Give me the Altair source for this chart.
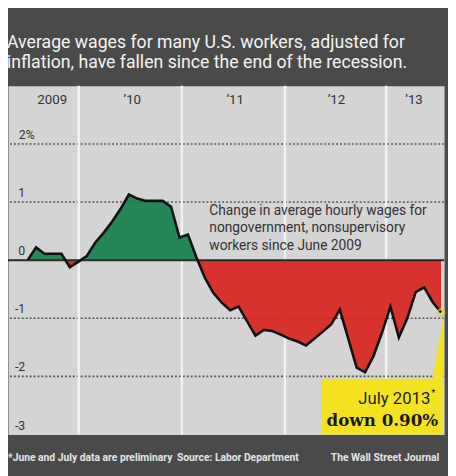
import altair as alt
import pandas as pd

# ---- data ----
month_index = list(range(50))  # June 2009 .. July 2013
values = [0.0, 0.22, 0.11, 0.11, 0.11, -0.12, -0.03, 0.07, 0.3, 0.47,
          0.66, 0.88, 1.13, 1.06, 1.02, 1.02, 1.02, 0.92, 0.39, 0.44,
          0.05, -0.3, -0.56, -0.73, -0.86, -0.8, -1.05, -1.3, -1.2, -1.22,
          -1.28, -1.35, -1.4, -1.47, -1.35, -1.23, -1.1, -0.85, -1.35, -1.85,
          -1.93, -1.65, -1.25, -0.8, -1.33, -1.0, -0.55, -0.47, -0.72, -0.9]
year_labels = ["2009", "\u201910", "\u201911", "\u201912", "\u201913"]
year_label_pos = [2.91, 12.4, 24.6, 36.6, 45.8]
year_edges = [6.05, 18.28, 30.5, 42.49]
dotted_levels = [2, 1, -1, -2]
ytick_vals = [1, 0, -1, -2, -3]
ytick_text = ["1", "0", "-1", "-2", "-3"]

df = pd.DataFrame({"i": month_index, "v": values})

W, H = 444, 355
xs = alt.Scale(domain=[-2.33, 49.36], nice=False, zero=False)
ys = alt.Scale(domain=[-3, 3], nice=False)

GREEN = "#17804e"
RED = "#d8261f"
YELLOW = "#f4e221"
TXT = "#333333"
SANS = "Roboto"

vmax = max(max(values), 0)
vmin = min(min(values), 0)
f = vmax / (vmax - vmin)

grid = alt.Chart(pd.DataFrame({"g": dotted_levels})).mark_rule(
    color="#555555", strokeDash=[2, 2], strokeWidth=1.6
).encode(y=alt.Y("g:Q", scale=ys, axis=None))

vgrid = alt.Chart(pd.DataFrame({"e": year_edges})).mark_rule(
    color="#f2f2f2", strokeWidth=2.5
).encode(x=alt.X("e:Q", scale=xs, axis=None))

area = alt.Chart(df).mark_area(
    opacity=0.93,
    color={"gradient": "linear", "x1": 0, "y1": 0, "x2": 0, "y2": 1,
           "stops": [{"offset": 0, "color": GREEN}, {"offset": f, "color": GREEN},
                     {"offset": f, "color": RED}, {"offset": 1, "color": RED}]}
).encode(x=alt.X("i:Q", scale=xs, axis=None), y=alt.Y("v:Q", scale=ys, axis=None), y2=alt.datum(0))

zero = alt.Chart(pd.DataFrame({"z": [0]})).mark_rule(color="#2a2a2a", strokeWidth=2).encode(
    y=alt.Y("z:Q", scale=ys, axis=None))

line = alt.Chart(df).mark_line(color="#111111", strokeWidth=2.6).encode(
    x=alt.X("i:Q", scale=xs), y=alt.Y("v:Q", scale=ys))

# callout box and pointer
last_i, last_v = month_index[-1], values[-1]
box = alt.Chart(pd.DataFrame({"x": [34.8], "x2": [49.2], "y": [-2.04], "y2": [-3]})).mark_rect(
    color=YELLOW).encode(x=alt.X("x:Q", scale=xs), x2="x2:Q", y=alt.Y("y:Q", scale=ys), y2="y2:Q")
pointer = alt.Chart(pd.DataFrame({"x": [48.0, 49.3], "y": [-2.04, last_v - 0.05], "y2": [-2.04, -2.04]})).mark_area(
    color=YELLOW).encode(x=alt.X("x:Q", scale=xs), y=alt.Y("y:Q", scale=ys), y2="y2:Q")
endpt = alt.Chart(pd.DataFrame({"i": [last_i], "v": [last_v]})).mark_point(
    shape="circle", filled=False, stroke="#e8cf10", strokeWidth=2, size=45).encode(
    x=alt.X("i:Q", scale=xs), y=alt.Y("v:Q", scale=ys))

years = alt.Chart(pd.DataFrame({"p": year_label_pos, "t": year_labels})).mark_text(
    font=SANS, fontSize=13.5, color=TXT, baseline="middle").encode(
    x=alt.X("p:Q", scale=xs), y=alt.value(14), text="t:N")

yt = alt.Chart(pd.DataFrame({"y": ytick_vals, "t": ytick_text})).mark_text(
    font=SANS, fontSize=12.5, color=TXT, align="right", baseline="alphabetic", dy=-5).encode(
    x=alt.value(17.5), y=alt.Y("y:Q", scale=ys), text="t:N")
yt2 = alt.Chart(pd.DataFrame({"y": [2], "t": ["2%"]})).mark_text(
    font=SANS, fontSize=12.5, color=TXT, align="left", baseline="alphabetic", dy=-5).encode(
    x=alt.value(11), y=alt.Y("y:Q", scale=ys), text="t:N")


def label(text, x, y, size, font, color, weight="normal", align="left", baseline="middle"):
    return alt.Chart(pd.DataFrame({"t": [text]})).mark_text(
        font=font, fontSize=size, color=color, fontWeight=weight, align=align, baseline=baseline
    ).encode(x=alt.value(x), y=alt.value(y), text="t:N")


texts = [
    label("Average wages for many U.S. workers, adjusted for", -1, -44, 18, SANS, "#f4f4f4"),
    label("inflation, have fallen since the end of the recession.", -1, -23, 18, SANS, "#f4f4f4"),
    label("Change in average hourly wages for", 205, 127, 14, SANS, TXT),
    label("nongovernment, nonsupervisory", 205, 145, 14, SANS, TXT),
    label("workers since June 2009", 205, 163, 14, SANS, TXT),
    label("July 2013", 430, 319, 17, SANS, "#222222", align="right"),
    label("*", 431, 313, 10, SANS, "#222222"),
    label("down 0.90%", 438, 341, 17, "DejaVu Serif", "#1a1a1a", weight="bold", align="right"),
    label("*June and July data are preliminary", 0, 379, 10.5, SANS, "#e6e6e6", weight="bold"),
    label("Source: Labor Department", 172, 379, 10.5, SANS, "#e6e6e6", weight="bold"),
    label("The Wall Street Journal", 439, 379, 10.5, SANS, "#e6e6e6", weight="bold", align="right"),
]

chart = alt.layer(
    grid, vgrid, area, zero, line, box, pointer, endpt, years, yt, yt2, *texts
).properties(
    width=W, height=H, background="#4a4a4a",
    padding={"left": 0, "top": 75, "right": 4, "bottom": 38},
    autosize=alt.AutoSizeParams(type="none"),
).configure_view(fill="#d4d4d4", stroke="transparent")

chart.save("out.html", embed_options={"renderer": "svg", "actions": False})
